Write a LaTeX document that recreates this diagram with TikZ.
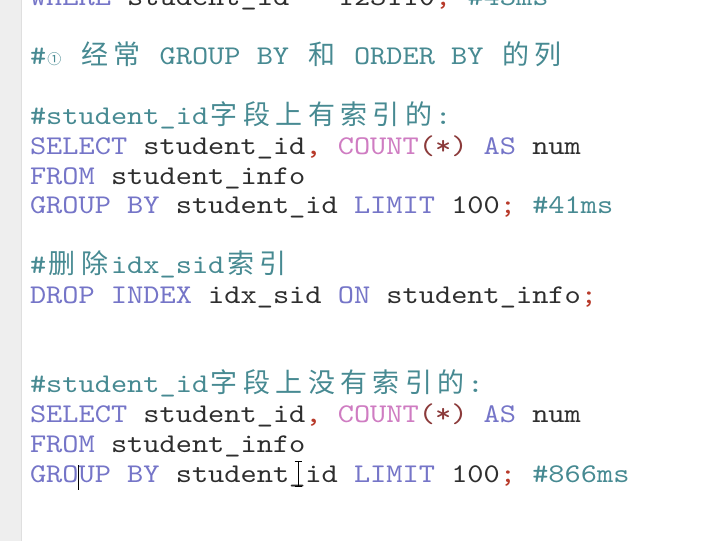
\documentclass[tikz,border=0pt]{standalone}
\usepackage{fontspec}
\newfontfamily\codefont{lmmono10-regular.otf}[FakeStretch=1.143]
\newfontfamily\cjkfont{Noto Sans CJK SC}
\definecolor{kw}{HTML}{7575C8}
\definecolor{fn}{HTML}{CF7CC2}
\definecolor{pn}{HTML}{8B3A3A}
\definecolor{sc}{HTML}{B83A2A}
\definecolor{cm}{HTML}{478A92}
\definecolor{tx}{HTML}{2E2E2E}
\definecolor{strip}{HTML}{EEEEEE}
\newcommand\K[1]{\textcolor{kw}{#1}}
\newcommand\Fn[1]{\textcolor{fn}{#1}}
\newcommand\Pn[1]{\textcolor{pn}{#1}}
\newcommand\Sc[1]{\textcolor{sc}{#1}}
\newcommand\Cm[1]{\textcolor{cm}{#1}}
\newcommand\Zh[1]{\makebox[32.4pt][c]{\cjkfont\fontsize{27}{27}\selectfont #1}}
\newcommand\Circ[1]{\makebox[16.2pt][c]{\cjkfont\fontsize{14}{14}\selectfont #1}}
\tikzset{codeline/.style={anchor=base west, inner sep=0pt, outer sep=0pt,
  font=\codefont\fontsize{27}{29.8}\selectfont, text=tx}}
\begin{document}
\begin{tikzpicture}[x=1pt,y=-1pt]
\useasboundingbox (0,0) rectangle (707,541);
\clip (0,0) rectangle (707,541);
\fill[white] (0,0) rectangle (707,541);
\fill[strip] (0,0) rectangle (21,541);
\draw[gray!25, line width=0.8pt] (21,0) -- (21,541);

\node[codeline] (l0) at (30,5.2) {\K{WHERE} student\_id = 123110\Sc{;} \Cm{\#43ms}};
\node[codeline] (l2) at (30,64.8) {\Cm{\#\Circ{①}\ \Zh{经}\Zh{常} GROUP BY \Zh{和} ORDER BY \Zh{的}\Zh{列}}};
\node[codeline] (l4) at (30,124.4) {\Cm{\#student\_id\Zh{字}\Zh{段}\Zh{上}\Zh{有}\Zh{索}\Zh{引}\Zh{的}:}};
\node[codeline] (l5) at (30,154.2) {\K{SELECT} student\_id\Sc{,} \Fn{COUNT}\Pn{(*)} \K{AS} num};
\node[codeline] (l6) at (30,184) {\K{FROM} student\_info};
\node[codeline] (l7) at (30,213.8) {\K{GROUP BY} student\_id \K{LIMIT} 100\Sc{;} \Cm{\#41ms}};
\node[codeline] (l9) at (30,273.4) {\Cm{\#\Zh{删}\Zh{除}idx\_sid\Zh{索}\Zh{引}}};
\node[codeline] (l10) at (30,303.2) {\K{DROP INDEX} idx\_sid \K{ON} student\_info\Sc{;}};
\node[codeline] (l13) at (30,392.6) {\Cm{\#student\_id\Zh{字}\Zh{段}\Zh{上}\Zh{没}\Zh{有}\Zh{索}\Zh{引}\Zh{的}:}};
\node[codeline] (l14) at (30,422.4) {\K{SELECT} student\_id\Sc{,} \Fn{COUNT}\Pn{(*)} \K{AS} num};
\node[codeline] (l15) at (30,452.2) {\K{FROM} student\_info};
\node[codeline] (l16) at (30,482) {\K{GROUP BY} student\_id \K{LIMIT} 100\Sc{;} \Cm{\#866ms}};

% text cursor
\draw[black, line width=1.3pt] (78.6,465) -- (78.6,490);
% mouse I-beam
\draw[black, line width=1pt] (298,461) -- (298,486);
\draw[black, line width=0.8pt] (294.5,461) -- (301.5,461);
\draw[black, line width=0.8pt] (294.5,486) -- (301.5,486);
\end{tikzpicture}
\end{document}
